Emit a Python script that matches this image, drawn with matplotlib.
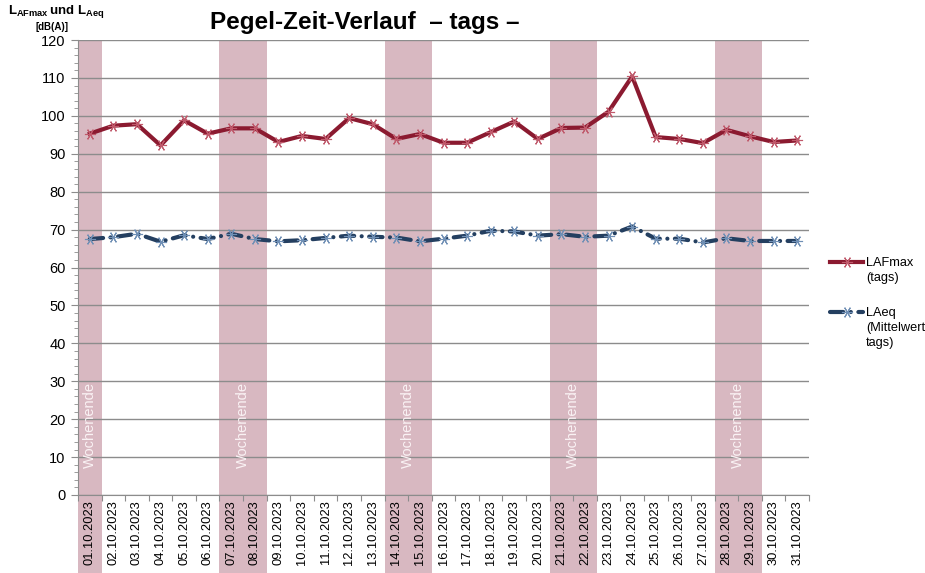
import numpy as np
import matplotlib
matplotlib.use("Agg")
import matplotlib.pyplot as plt
from matplotlib.lines import Line2D

plt.rcParams['font.family'] = ['Liberation Sans', 'DejaVu Sans']
plt.rcParams['mathtext.fontset'] = 'custom'
plt.rcParams['mathtext.rm'] = 'Liberation Sans'
plt.rcParams['mathtext.bf'] = 'Liberation Sans:bold'

days = ["%02d.10.2023" % d for d in range(1, 32)]
lafmax = [95.3, 97.4, 97.8, 92.2, 98.8, 95.3, 96.7, 96.7, 93.1, 94.7, 93.9, 99.4,
          97.8, 93.9, 95.2, 92.9, 92.9, 95.7, 98.5, 93.9, 96.8, 96.9, 101.1, 110.4,
          94.4, 93.9, 92.8, 96.3, 94.6, 93.1, 93.5]
laeq = [67.5, 68.0, 68.9, 66.8, 68.5, 67.5, 68.9, 67.5, 66.9, 67.2, 67.8, 68.4,
        68.1, 67.9, 66.9, 67.6, 68.4, 69.7, 69.5, 68.4, 68.8, 68.1, 68.4, 70.8,
        67.6, 67.6, 66.6, 67.7, 67.0, 67.0, 67.0]
# weekend blocks: (first day index, number of days)
weekends = [(0, 1), (6, 2), (13, 2), (20, 2), (27, 2)]
labels = ["LAFmax\n(tags)", "LAeq\n(Mittelwert\ntags)"]

red = "#8B1A30"
blue = "#243F60"
band = "#D8B8C1"
grey = "#8C8C8C"

fig = plt.figure(figsize=(9.25, 5.73), dpi=100)
ax = fig.add_axes([78/925, 1-495/573, 731/925, 455/573])

x = np.arange(len(days))
ax.set_xlim(-0.5, len(days)-0.5)
ax.set_ylim(0, 120)

ext = 78/455
for start, n in weekends:
    ax.axvspan(start-0.5, start+n-0.5, ymin=-ext, ymax=1, color=band,
               clip_on=False, zorder=0, lw=0)
    ax.text(start+n/2-0.5, 18.5, "Wochenende", rotation=90, color="#FAF2F4",
            fontsize=10.5, ha="center", va="center", zorder=1)

for v in range(0, 121, 10):
    ax.axhline(v, color=grey, lw=1, zorder=0.5)

star = (6, 2, 90)
red_style = dict(color=red, lw=3, marker=star, ms=8, mec="#C0596B", mew=0.8)
blue_style = dict(color=blue, lw=3, dashes=(3.2, 1.8, 0.01, 1.8),
                  dash_capstyle="round", marker=star, ms=8, mec="#6F8FB5", mew=0.8)
ax.plot(x, lafmax, zorder=3, **red_style)
ax.plot(x, laeq, zorder=3, **blue_style)

ax.set_yticks(range(0, 121, 10))
ax.set_yticks(range(0, 121, 2), minor=True)
ax.tick_params(axis="y", which="major", length=5, color=grey, labelsize=10.5, pad=4)
ax.tick_params(axis="y", which="minor", length=3, color=grey)

ax.set_xticks(np.arange(-0.5, len(days), 1))
ax.set_xticklabels([])
ax.set_xticks(x, minor=True)
ax.set_xticklabels(days, minor=True, rotation=90, fontsize=9.3)
ax.tick_params(axis="x", which="major", length=4, color=grey)
ax.tick_params(axis="x", which="minor", length=0, pad=4)

for s in ["top", "right"]:
    ax.spines[s].set_visible(False)
ax.spines["left"].set_color(grey)
ax.spines["bottom"].set_color(grey)

fig.text(365/925, 1-22/573, "Pegel-Zeit-Verlauf  \u2013 tags \u2013", fontsize=17.5,
         fontweight="bold", ha="center", va="center")
fig.text(8/925, 1-12/573, r"$\mathbf{L_{AFmax}\,und\;L_{Aeq}}$", fontsize=9.5,
         ha="left", va="center")
fig.text(36/925, 1-27/573, "[dB(A)]", fontsize=7, fontweight="bold",
         ha="left", va="center")

# legend drawn by hand: sample line beside the first text line
for style, label, yline in [(red_style, labels[0], 262), (blue_style, labels[1], 312)]:
    fig.add_artist(Line2D([830/925, 863/925], [1-yline/573]*2, markevery=[],
                          transform=fig.transFigure, **style))
    fig.add_artist(Line2D([846.5/925], [1-yline/573], transform=fig.transFigure,
                          color=style["color"], lw=0, marker=star, ms=8,
                          mec=style["mec"], mew=0.8))
    fig.text(866/925, 1-(yline-5)/573, label, fontsize=9.2, ha="left", va="top",
             linespacing=1.35)

fig.savefig("out.png", dpi=100)
